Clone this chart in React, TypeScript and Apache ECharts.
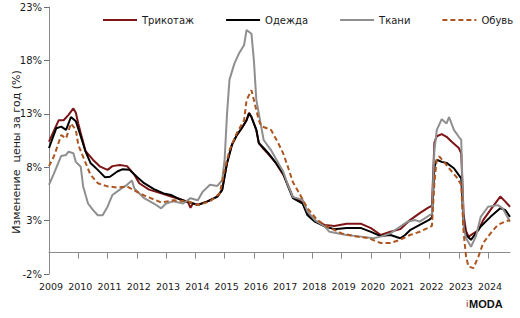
import React, { useEffect, useRef } from "react";
import * as echarts from "echarts";

// Year-on-year price change, %, monthly readings ("YYYY-MM", value)
const knitwear: [string, number][] = [
  ["2009-01", 10.4], ["2009-05", 12.4], ["2009-07", 12.4], ["2009-09", 12.9], ["2009-11", 13.5],
  ["2009-12", 13.1], ["2010-01", 12.1], ["2010-02", 11.2], ["2010-04", 9.5], ["2010-07", 8.7],
  ["2010-10", 8.05], ["2011-01", 7.75], ["2011-03", 8.1], ["2011-06", 8.2], ["2011-09", 8.1],
  ["2011-12", 7.3], ["2012-02", 6.5], ["2012-06", 5.9], ["2012-11", 5.55], ["2013-03", 5.25],
  ["2013-07", 5.0], ["2013-10", 4.7], ["2013-11", 4.2], ["2013-12", 4.6], ["2014-02", 4.5],
  ["2014-06", 4.8], ["2014-10", 5.25], ["2014-12", 5.9], ["2015-02", 8.4], ["2015-04", 10.1],
  ["2015-06", 11.0], ["2015-08", 11.65], ["2015-10", 12.4], ["2015-11", 13.1], ["2015-12", 12.7],
  ["2016-02", 11.5], ["2016-03", 10.3], ["2016-05", 9.7], ["2016-07", 9.2], ["2016-10", 8.4],
  ["2017-01", 7.3], ["2017-03", 6.3], ["2017-05", 5.2], ["2017-09", 4.7], ["2017-11", 3.6],
  ["2018-02", 3.0], ["2018-06", 2.6], ["2018-10", 2.5], ["2019-03", 2.7], ["2019-09", 2.7],
  ["2020-01", 2.3], ["2020-05", 1.65], ["2020-09", 1.95], ["2021-01", 2.2], ["2021-05", 3.05],
  ["2021-09", 3.7], ["2021-12", 4.15], ["2022-02", 4.4], ["2022-03", 10.3], ["2022-04", 10.9],
  ["2022-06", 11.1], ["2022-08", 10.85], ["2022-10", 10.4], ["2023-01", 9.8], ["2023-02", 9.3],
  ["2023-03", 3.5], ["2023-04", 2.0], ["2023-05", 1.5], ["2023-09", 2.1], ["2023-11", 3.05],
  ["2024-02", 4.0], ["2024-06", 5.25], ["2024-08", 4.8], ["2024-10", 4.3],
];

const clothing: [string, number][] = [
  ["2009-01", 9.8], ["2009-04", 11.65], ["2009-06", 11.8], ["2009-08", 11.5], ["2009-10", 12.7],
  ["2009-12", 12.3], ["2010-02", 10.9], ["2010-04", 9.45], ["2010-06", 8.4], ["2010-09", 7.75],
  ["2010-12", 7.05], ["2011-02", 7.1], ["2011-05", 7.6], ["2011-07", 7.8], ["2011-10", 7.75],
  ["2012-01", 7.1], ["2012-04", 6.5], ["2012-08", 5.95], ["2012-12", 5.55], ["2013-03", 5.4],
  ["2013-07", 4.95], ["2013-11", 4.7], ["2014-02", 4.45], ["2014-06", 4.8], ["2014-10", 5.25],
  ["2014-12", 5.85], ["2015-02", 8.4], ["2015-04", 10.1], ["2015-06", 11.0], ["2015-08", 11.65],
  ["2015-10", 12.4], ["2015-11", 13.05], ["2015-12", 12.7], ["2016-02", 11.5], ["2016-03", 10.25],
  ["2016-05", 9.8], ["2016-07", 9.3], ["2016-10", 8.4], ["2017-01", 7.45], ["2017-03", 6.2],
  ["2017-05", 5.1], ["2017-09", 4.6], ["2017-11", 3.5], ["2018-02", 2.9], ["2018-06", 2.45],
  ["2018-10", 2.2], ["2019-03", 2.3], ["2019-09", 2.3], ["2020-01", 1.95], ["2020-05", 1.55],
  ["2020-09", 1.65], ["2021-01", 1.35], ["2021-03", 1.65], ["2021-05", 2.1], ["2021-09", 2.6],
  ["2022-01", 3.1], ["2022-02", 3.3], ["2022-03", 8.0], ["2022-04", 8.7], ["2022-06", 8.5],
  ["2022-08", 8.4], ["2022-11", 7.9], ["2023-02", 6.95], ["2023-03", 2.6], ["2023-04", 1.65],
  ["2023-06", 1.2], ["2023-10", 2.45], ["2024-02", 3.35], ["2024-06", 4.15], ["2024-08", 4.0],
  ["2024-10", 3.35],
];

const fabrics: [string, number][] = [
  ["2009-01", 6.35], ["2009-03", 7.4], ["2009-06", 9.05], ["2009-08", 9.15], ["2009-09", 9.45],
  ["2009-11", 9.3], ["2009-12", 8.5], ["2010-02", 8.05], ["2010-03", 6.2], ["2010-05", 4.6],
  ["2010-07", 4.0], ["2010-09", 3.5], ["2010-11", 3.5], ["2011-01", 4.3], ["2011-03", 5.4],
  ["2011-06", 5.9], ["2011-09", 6.35], ["2011-11", 6.75], ["2011-12", 6.0], ["2012-04", 5.1],
  ["2012-08", 4.6], ["2012-11", 4.15], ["2013-01", 4.6], ["2013-04", 4.8], ["2013-08", 4.6],
  ["2013-11", 5.1], ["2014-02", 4.9], ["2014-04", 5.7], ["2014-07", 6.35], ["2014-10", 6.25],
  ["2014-12", 6.8], ["2015-01", 8.7], ["2015-02", 13.05], ["2015-03", 16.2], ["2015-05", 17.7],
  ["2015-07", 18.7], ["2015-09", 19.45], ["2015-10", 20.85], ["2015-12", 20.5], ["2016-01", 18.0],
  ["2016-02", 14.3], ["2016-04", 11.8], ["2016-05", 10.55], ["2016-08", 9.6], ["2016-11", 8.4],
  ["2017-01", 7.6], ["2017-03", 6.3], ["2017-05", 5.2], ["2017-09", 4.95], ["2017-11", 3.85],
  ["2018-02", 3.05], ["2018-06", 2.45], ["2018-08", 1.95], ["2019-03", 1.65], ["2019-09", 1.5],
  ["2020-02", 1.35], ["2020-05", 1.5], ["2020-09", 1.8], ["2021-01", 2.45], ["2021-04", 2.9],
  ["2021-07", 3.05], ["2021-09", 2.9], ["2022-01", 3.5], ["2022-02", 3.6], ["2022-03", 9.6],
  ["2022-04", 11.5], ["2022-06", 12.5], ["2022-08", 12.1], ["2022-09", 12.7], ["2022-11", 11.5],
  ["2023-01", 10.85], ["2023-02", 10.55], ["2023-03", 2.4], ["2023-04", 1.35], ["2023-06", 0.55],
  ["2023-08", 1.5], ["2023-10", 3.35], ["2024-01", 4.3], ["2024-05", 4.45], ["2024-07", 4.15],
  ["2024-10", 2.9],
];

const footwear: [string, number][] = [
  ["2009-01", 8.1], ["2009-03", 9.0], ["2009-06", 11.0], ["2009-08", 10.7], ["2009-10", 12.1],
  ["2009-12", 11.5], ["2010-01", 10.1], ["2010-04", 8.4], ["2010-06", 7.3], ["2010-09", 6.5],
  ["2011-01", 6.2], ["2011-05", 6.1], ["2011-09", 6.2], ["2012-01", 5.7], ["2012-05", 5.25],
  ["2012-09", 4.9], ["2012-11", 4.7], ["2013-04", 4.9], ["2013-10", 4.8], ["2014-02", 4.45],
  ["2014-07", 4.8], ["2014-11", 5.55], ["2015-01", 7.75], ["2015-03", 9.6], ["2015-06", 11.2],
  ["2015-09", 12.4], ["2015-10", 14.3], ["2015-12", 15.2], ["2016-01", 14.3], ["2016-03", 12.4],
  ["2016-04", 11.85], ["2016-08", 11.5], ["2016-11", 10.25], ["2017-01", 9.3], ["2017-03", 8.0],
  ["2017-05", 6.6], ["2017-08", 5.4], ["2017-11", 4.15], ["2018-03", 3.05], ["2018-07", 2.45],
  ["2019-01", 1.8], ["2019-06", 1.55], ["2019-12", 1.35], ["2020-05", 0.9], ["2020-09", 0.9],
  ["2021-01", 1.2], ["2021-05", 1.65], ["2021-09", 1.95], ["2022-02", 2.5], ["2022-03", 6.5],
  ["2022-04", 8.85], ["2022-05", 9.0], ["2022-07", 8.5], ["2022-09", 7.9], ["2022-12", 7.1],
  ["2023-02", 6.35], ["2023-03", 1.8], ["2023-04", -0.4], ["2023-05", -1.3], ["2023-07", -1.45],
  ["2023-09", -0.4], ["2023-11", 0.9], ["2024-02", 1.8], ["2024-05", 2.6], ["2024-08", 2.9],
  ["2024-10", 3.05],
];

const yearLabels = [2009, 2010, 2011, 2012, 2013, 2014, 2015, 2016, 2017, 2018, 2019, 2020, 2021, 2022, 2023, 2024];
const yTickValues = [-2, 3, 8, 13, 18, 23];
const seriesNames = ["Трикотаж", "Одежда", "Ткани", "Обувь"];
const yTitle = "Изменение\u00a0 цены за год (%)";

const FONT = '"DejaVu Sans", Verdana, sans-serif';

// "YYYY-MM" -> fractional year (January = whole year)
const toYear = (s: string): number => {
  const [y, m] = s.split("-").map(Number);
  return y + (m - 1) / 12;
};
const toPoints = (rows: [string, number][]) => rows.map(([d, v]) => [toYear(d), v]);

const X_MIN = 2009;
const X_MAX = toYear("2024-10");

export default function App() {
  const ref = useRef<HTMLDivElement>(null);

  useEffect(() => {
    if (!ref.current) return;
    const chart = echarts.init(ref.current, undefined, { renderer: "svg" });

    const lineSeries = (
      name: string,
      rows: [string, number][],
      color: string,
      type: "solid" | number[] = "solid"
    ) => ({
      name,
      type: "line",
      xAxisIndex: 0,
      data: toPoints(rows),
      showSymbol: false,
      symbol: "none",
      lineStyle: { color, width: 2, type },
      itemStyle: { color },
    });

    chart.setOption({
      animation: false,
      textStyle: { fontFamily: FONT },
      grid: { left: 49, right: 10, top: 7, bottom: 44, containLabel: false },
      legend: {
        left: 97,
        top: 10,
        itemWidth: 34,
        itemHeight: 12,
        itemGap: 31,
        itemStyle: { opacity: 0 },
        textStyle: { fontFamily: FONT, fontSize: 10, color: "#1a1a1a" },
        data: seriesNames,
      },
      xAxis: [
        {
          type: "value",
          min: X_MIN,
          max: X_MAX,
          interval: 1,
          axisLine: { onZero: true, lineStyle: { color: "#8a8a8a", width: 1 } },
          axisTick: {
            show: true,
            length: 6,
            customValues: yearLabels.slice(1),
            lineStyle: { color: "#8a8a8a" },
          },
          axisLabel: { show: false },
          splitLine: { show: false },
        },
        {
          type: "value",
          position: "bottom",
          min: X_MIN,
          max: X_MAX,
          interval: 1,
          axisLine: { show: false, onZero: false },
          axisTick: { show: false },
          axisLabel: {
            customValues: yearLabels,
            margin: 7,
            fontSize: 9.5,
            color: "#1a1a1a",
            fontFamily: FONT,
            padding: [0, 0, 0, 4],
            formatter: (v: number) => String(Math.round(v)),
          },
          splitLine: { show: false },
        },
      ],
      yAxis: {
        type: "value",
        min: -2,
        max: 23,
        axisLine: { show: true, lineStyle: { color: "#8a8a8a", width: 1 } },
        axisTick: {
          show: true,
          length: 5,
          customValues: yTickValues,
          lineStyle: { color: "#6a6a80" },
        },
        axisLabel: {
          customValues: yTickValues,
          margin: 7,
          fontSize: 10,
          color: "#1a1a1a",
          fontFamily: FONT,
          formatter: (v: number) => `${v}%`,
        },
        splitLine: { show: false },
      },
      graphic: [
        {
          type: "text",
          x: 16,
          y: 152,
          rotation: Math.PI / 2,
          style: {
            text: yTitle,
            font: `11px ${FONT}`,
            fill: "#1a1a1a",
            align: "center",
            verticalAlign: "middle",
          },
        },
        {
          type: "text",
          x: 466,
          y: 304,
          style: {
            text: "i",
            font: 'bold 9px "Liberation Sans", Arial, sans-serif',
            fill: "#a8607e",
            verticalAlign: "middle",
          },
        },
        {
          type: "text",
          x: 469,
          y: 304,
          style: {
            text: "MODA",
            font: 'bold 11px "Liberation Sans", Arial, sans-serif',
            fill: "#111111",
            verticalAlign: "middle",
          },
        },
      ],
      series: [
        lineSeries(seriesNames[0], knitwear, "#7d1416"),
        lineSeries(seriesNames[1], clothing, "#000000"),
        lineSeries(seriesNames[2], fabrics, "#8f8f8f"),
        lineSeries(seriesNames[3], footwear, "#ad5621", [5, 3]),
      ],
    });

    return () => chart.dispose();
  }, []);

  return (
    <div
      ref={ref}
      style={{ position: "absolute", left: 0, top: 0, width: 520, height: 318 }}
    />
  );
}
